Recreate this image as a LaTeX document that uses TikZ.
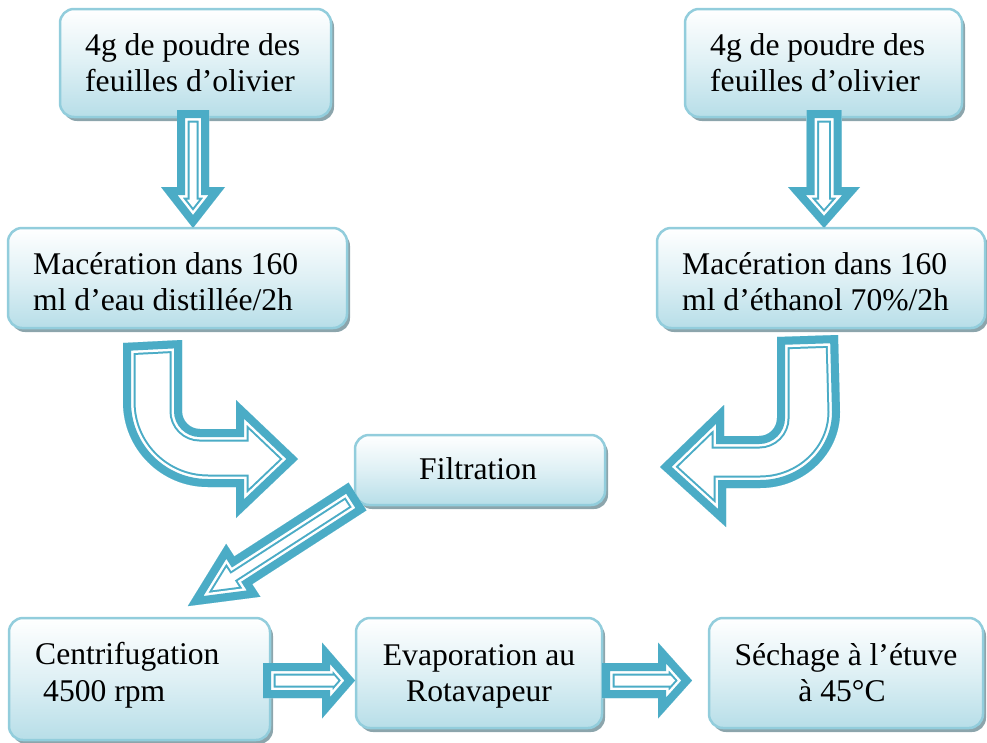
\documentclass[tikz,border=0pt]{standalone}
\usepackage{fontspec}
\setmainfont{Liberation Serif}
\pgfdeclarelayer{background}
\pgfsetlayers{background,main}
\definecolor{arr}{RGB}{75,172,198}
\definecolor{bord}{RGB}{146,205,220}
\definecolor{fillb}{RGB}{183,222,232}
\definecolor{shad}{RGB}{140,165,172}
\tikzset{
  box/.style={draw=bord, line width=2.5pt, rounded corners=14pt, top color=white,
    bottom color=fillb, middle color=fillb!45, inner sep=0pt, outer sep=0pt},
  txt/.style={font=\fontsize{31.6}{36}\selectfont, inner sep=0pt},
  hol/.style={line join=miter, miter limit=30},
}
\newcommand{\hollowpath}[1]{%
  \begin{scope}
    \clip #1;
    \fill[white] #1;
    \draw[hol, arr, line width=25pt] #1;
    \draw[hol, white, line width=21pt] #1;
    \draw[hol, arr, line width=16pt] #1;
  \end{scope}}
% tail x, tail y, angle, shaft length, shaft half width, head half width, head length
\newcommand{\sarrow}[7]{%
  \begin{scope}[shift={(#1,#2)}, rotate=#3]
    \hollowpath{(0,-#5) -- (#4,-#5) -- (#4,-#6) -- ({#4+#7},0) -- (#4,#6) -- (#4,#5) -- (0,#5) -- cycle}
  \end{scope}}
\begin{document}
\begin{tikzpicture}[x=1pt,y=-1pt]
\useasboundingbox (0,0) rectangle (987,742);

% boxes
\node[box, minimum width=271pt, minimum height=108pt] (b1) at (195.5,63) {};
\node[box, minimum width=277pt, minimum height=108pt] (b2) at (823.5,63) {};
\node[box, minimum width=339pt, minimum height=100pt] (b3) at (177.5,278) {};
\node[box, minimum width=328pt, minimum height=100pt] (b4) at (821,278) {};
\node[box, minimum width=250pt, minimum height=70pt] (bf) at (480,470) {};
\node[box, minimum width=261pt, minimum height=122pt] (bc) at (139.5,679) {};
\node[box, minimum width=246pt, minimum height=110pt] (be) at (479,673) {};
\node[box, minimum width=274pt, minimum height=110pt] (bs) at (846,673) {};

\begin{pgfonlayer}{background}
\foreach \n in {b1,b2,b3,b4,bf,bc,be,bs}
  \fill[shad, rounded corners=14pt] ([shift={(3,4)}]\n.south west) rectangle ([shift={(3,4)}]\n.north east);
\end{pgfonlayer}

% texts
\node[txt, anchor=base west] (t1a) at (85,55) {4g de poudre des};
\node[txt, anchor=base west] (t1b) at (85,91) {feuilles d’olivier};
\node[txt, anchor=base west] (t2a) at (710,55) {4g de poudre des};
\node[txt, anchor=base west] (t2b) at (710,91) {feuilles d’olivier};
\node[txt, anchor=base west] (t3a) at (33,274) {Macération dans 160};
\node[txt, anchor=base west] (t3b) at (33,310) {ml d’eau distillée/2h};
\node[txt, anchor=base west] (t4a) at (682,274) {Macération dans 160};
\node[txt, anchor=base west] (t4b) at (682,310) {ml d’éthanol 70\%/2h};
\node[txt, anchor=base] (tf) at (478,479) {Filtration};
\node[txt, anchor=base west] (tca) at (35,664) {Centrifugation};
\node[txt, anchor=base west] (tcb) at (43,701) {4500 rpm};
\node[txt, anchor=base] (tea) at (479,665) {Evaporation au};
\node[txt, anchor=base] (teb) at (479,701) {Rotavapeur};
\node[txt, anchor=base] (tsa) at (846,665) {Séchage à l’étuve};
\node[txt, anchor=base] (tsb) at (842,701) {à 45°C};

% straight arrows
\sarrow{193}{110}{-90}{77}{16}{32}{41}
\sarrow{824}{110}{-90}{77}{17.5}{36}{41}
\sarrow{357.5}{496.5}{212.86}{136}{16.5}{31.5}{66}
\sarrow{263}{680.5}{0}{59}{17.5}{38}{33}
\sarrow{602}{680.5}{0}{56}{17.5}{38}{34}

% curved arrows
\hollowpath{(123,343) -- (123,402) .. controls (123,449) and (161,487) .. (208,487) -- (236,487) -- (236,518) -- (298,459) -- (236,400) -- (236,429) -- (200,429) .. controls (190,429) and (182,421) .. (182,411) -- (182,340) -- cycle}
\hollowpath{(838,335) -- (840,412) .. controls (840,454) and (804,488) .. (760,488) -- (726,488) -- (726,527) -- (660,467) -- (724,405) -- (724,436) -- (759,436) .. controls (769,436) and (777,428) .. (777,418) -- (777,337) -- cycle}
\end{tikzpicture}
\end{document}
